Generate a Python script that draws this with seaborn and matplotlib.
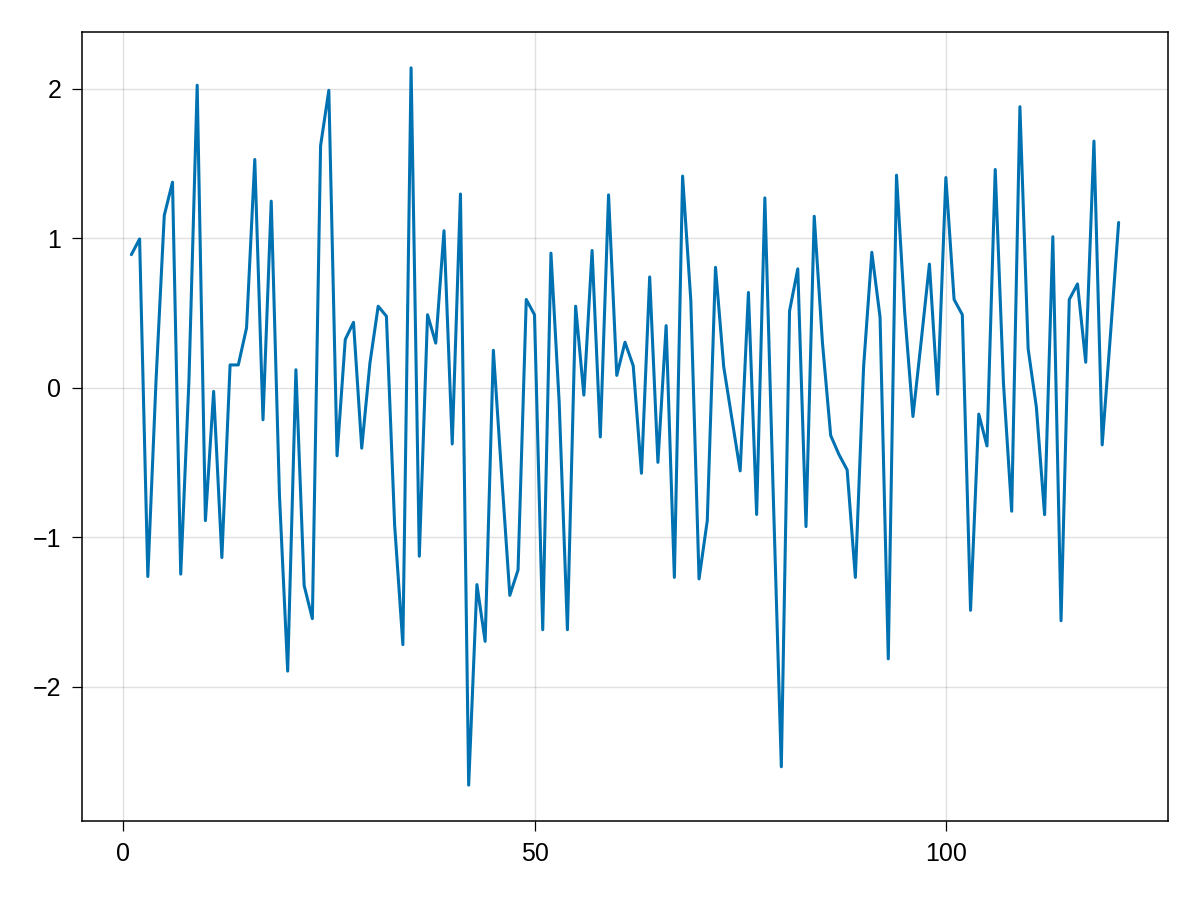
"""Line chart of a noisy series, styled after the reference."""

import matplotlib

matplotlib.use("Agg")
import matplotlib.pyplot as plt
import numpy as np
import pandas as pd
import seaborn as sns

# values, one per step 1..121
values = [
    0.89, 0.995, -1.264, 0.05, 1.153, 1.375, -1.248, 0.05, 2.024, -0.89,
    -0.025, -1.137, 0.152, 0.152, 0.40, 1.527, -0.215, 1.248, -0.72, -1.897,
    0.12, -1.324, -1.546, 1.619, 1.99, -0.456, 0.323, 0.437, -0.405, 0.165,
    0.545, 0.478, -0.92, -1.72, 2.14, -1.128, 0.488, 0.298, 1.05, -0.377,
    1.296, -2.66, -1.318, -1.698, 0.25, -0.58, -1.39, -1.22, 0.59, 0.488,
    -1.62, 0.90, -0.10, -1.62, 0.545, -0.05, 0.918, -0.33, 1.29, 0.082,
    0.304, 0.146, -0.573, 0.741, -0.50, 0.415, -1.27, 1.416, 0.583, -1.28,
    -0.89, 0.805, 0.139, -0.21, -0.557, 0.637, -0.849, 1.27, -0.68, -2.537,
    0.513, 0.795, -0.93, 1.147, 0.30, -0.32, -0.447, -0.55, -1.27, 0.139,
    0.906, 0.472, -1.815, 1.422, 0.50, -0.193, 0.31, 0.827, -0.044, 1.406,
    0.59, 0.488, -1.49, -0.177, -0.39, 1.46, 0.03, -0.827, 1.88, 0.26,
    -0.13, -0.85, 1.01, -1.56, 0.59, 0.694, 0.17, 1.65, -0.383, 0.35,
    1.105,
]
steps = list(range(1, len(values) + 1))
x_ticks = [0, 50, 100]
y_ticks = [-2, -1, 0, 1, 2]

LINE_COLOR = "#0072B2"

sns.set_style("white")
plt.rcParams["font.family"] = ["Liberation Sans", "DejaVu Sans"]

df = pd.DataFrame({"step": steps, "value": values})

fig = plt.figure(figsize=(12, 9), dpi=100)
ax = fig.add_axes([82 / 1200, 1 - 821 / 900, (1168 - 82) / 1200, (821 - 32) / 900])

sns.lineplot(data=df, x="step", y="value", ax=ax, color=LINE_COLOR,
             linewidth=2.2, estimator=None)

# 5% margins like the reference
span_x = max(steps) - min(steps)
ax.set_xlim(min(steps) - 0.05 * span_x, max(steps) + 0.05 * span_x)
span_y = max(values) - min(values)
ax.set_ylim(min(values) - 0.05 * span_y, max(values) + 0.05 * span_y)

ax.set_xticks(x_ticks)
ax.set_yticks(y_ticks)
ax.set_yticklabels([f"{t}".replace("-", "\u2212") for t in y_ticks])
ax.set_xlabel("")
ax.set_ylabel("")
ax.grid(True, color="black", alpha=0.12, linewidth=1.0)
ax.set_axisbelow(True)

for spine in ax.spines.values():
    spine.set_visible(True)
    spine.set_color("black")
    spine.set_linewidth(1.1)

ax.tick_params(axis="both", direction="out", length=7, width=0.9,
               color="black", labelsize=18, pad=8, labelcolor="black")
ax.tick_params(axis="both", which="both", bottom=True, left=True)

fig.savefig("out.png", dpi=100)
plt.close(fig)
